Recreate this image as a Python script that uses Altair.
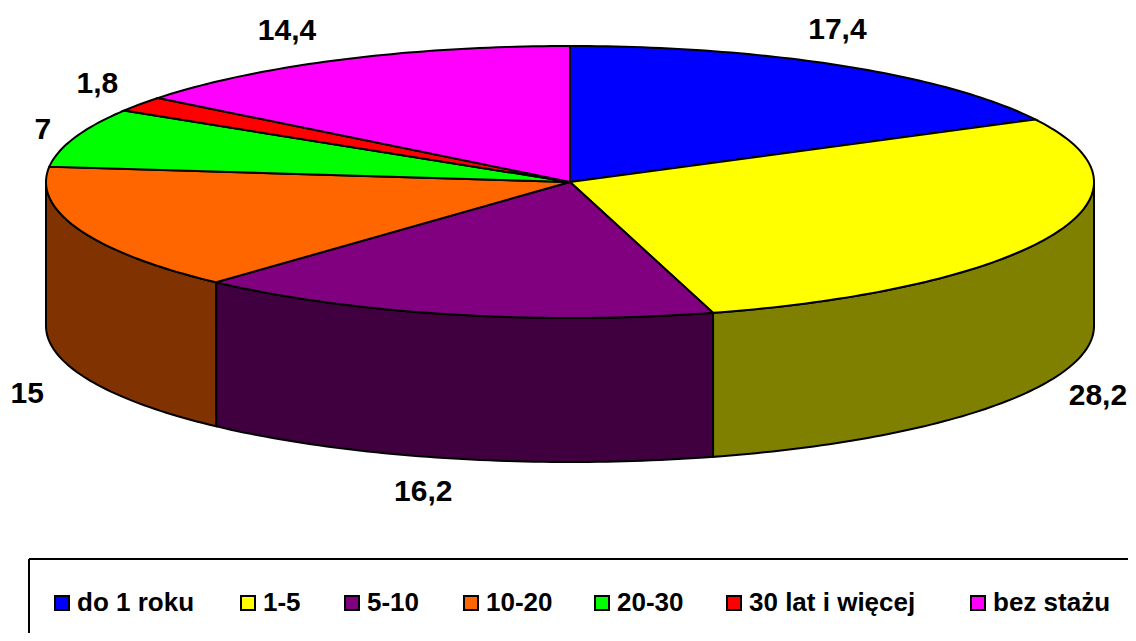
import math
import altair as alt

categories = ["do 1 roku", "1-5", "5-10", "10-20", "20-30", "30 lat i więcej", "bez stażu"]
values = [17.4, 28.2, 16.2, 15, 7, 1.8, 14.4]
labels = ["17,4", "28,2", "16,2", "15", "7", "1,8", "14,4"]
top_colors = ["#0000FF", "#FFFF00", "#800080", "#FF6600", "#00FF00", "#FF0000", "#FF00FF"]
side_colors = ["#000080", "#808000", "#400040", "#803300", "#008000", "#800000", "#800080"]

# geometry of the tilted pie, in chart pixels
CX, CY, RX, RY, DEPTH = 562, 174, 524, 136, 144
LABEL_NUDGE = [(-5, -36), (47, 16), (-26, 34), (-52, 20), (-32, -8), (-43, -20), (-54, -29)]
LEGEND_SLOTS = [54, 240, 344, 463, 594, 726, 970]
LEGEND_Y = 595


def ring(a, dy=0.0):
    r = math.radians(a)
    return [round(CX + RX * math.sin(r), 2), round(CY - RY * math.cos(r) + dy, 2)]


def arc(a0, a1, dy=0.0):
    n = max(2, int(abs(a1 - a0)) + 1)
    return [ring(a0 + (a1 - a0) * i / n, dy) for i in range(n + 1)]


total = sum(values)
edges = [0.0]
for v in values:
    edges.append(edges[-1] + 360.0 * v / total)

tops, sides, texts, swatches = [], [], [], []
for i, cat in enumerate(categories):
    a0, a1 = edges[i], edges[i + 1]
    poly = [[CX, CY]] + arc(a0, a1) + [[CX, CY]]
    tops.append({"type": "Feature", "geometry": {"type": "Polygon", "coordinates": [poly]},
                 "properties": {"cat": cat}})
    s0, s1 = max(a0, 90.0), min(a1, 270.0)
    if s1 > s0:
        front = arc(s0, s1)
        back = arc(s1, s0, DEPTH)
        sides.append({"type": "Feature",
                      "geometry": {"type": "Polygon", "coordinates": [front + back + [front[0]]]},
                      "properties": {"shade": side_colors[i]}})
    mid = (a0 + a1) / 2
    p = ring(mid, DEPTH if 90 < mid < 270 else 0)
    texts.append({"lon": p[0] + LABEL_NUDGE[i][0], "lat": p[1] + LABEL_NUDGE[i][1], "label": labels[i]})
    swatches.append({"lon": LEGEND_SLOTS[i], "lat": LEGEND_Y, "tx": LEGEND_SLOTS[i] + 15, "cat": cat})

FONT = "Liberation Sans"
proj = alt.Projection(type="identity", scale=1, translate=[0, 0]).to_dict()
color_scale = alt.Scale(domain=categories, range=top_colors)

side_layer = alt.Chart(alt.Data(values=sides)).mark_geoshape(stroke="black", strokeWidth=2).encode(
    fill=alt.Fill("properties.shade:N", scale=None)
).project(**proj)

top_layer = alt.Chart(alt.Data(values=tops)).mark_geoshape(stroke="black", strokeWidth=2).encode(
    fill=alt.Fill("properties.cat:N", scale=color_scale, legend=None)
).project(**proj)

text_layer = alt.Chart(alt.Data(values=texts)).mark_text(
    font=FONT, fontWeight="bold", fontSize=30, color="black", baseline="middle", align="center"
).encode(longitude="lon:Q", latitude="lat:Q", text="label:N").project(**proj)

swatch_layer = alt.Chart(alt.Data(values=swatches)).mark_square(
    size=196, stroke="black", strokeWidth=2, opacity=1, filled=True
).encode(longitude="lon:Q", latitude="lat:Q",
         fill=alt.Fill("cat:N", scale=color_scale, legend=None)).project(**proj)

swatch_text = alt.Chart(alt.Data(values=swatches)).mark_text(
    font=FONT, fontWeight="bold", fontSize=26, color="black", baseline="middle", align="left"
).encode(longitude="tx:Q", latitude="lat:Q", text="cat:N").project(**proj)

box_top = alt.Chart(alt.Data(values=[{"a": 0}])).mark_rule(color="black", strokeWidth=2).encode(
    x=alt.value(21), x2=alt.value(1120), y=alt.value(551))
box_left = alt.Chart(alt.Data(values=[{"a": 0}])).mark_rule(color="black", strokeWidth=2).encode(
    x=alt.value(21), y=alt.value(551), y2=alt.value(625))

chart = alt.layer(side_layer, top_layer, text_layer, swatch_layer, swatch_text, box_top, box_left).properties(
    width=1120, height=625, padding=0, autosize=alt.AutoSizeParams(type="none")
).configure_view(stroke=None)

chart.save("out.html", embed_options={"renderer": "svg", "actions": False})
